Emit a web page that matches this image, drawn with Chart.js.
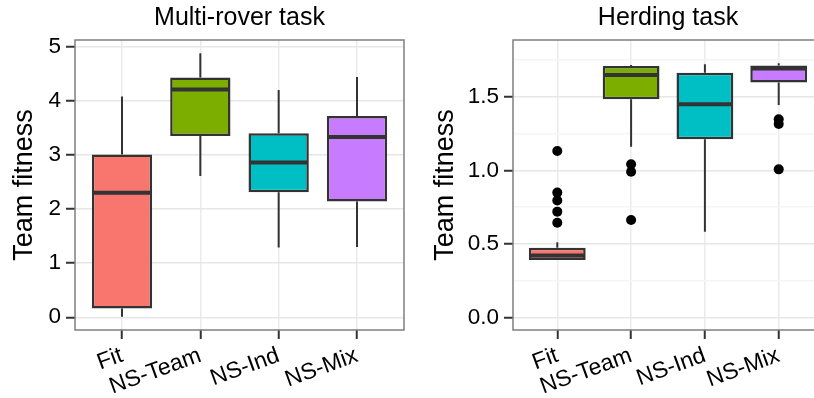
<!DOCTYPE html>
<html lang="en">
<head>
<meta charset="UTF-8">
<title>Team fitness</title>
<script src="https://cdn.jsdelivr.net/npm/chart.js@4.4.0/dist/chart.umd.min.js"></script>
<style>
  html, body { margin: 0; padding: 0; background: #fff; overflow: hidden; }
  #wrap { position: relative; width: 814px; height: 398px; overflow: hidden; }
  canvas { position: absolute; top: 0; }
  #rover { left: 0; }
  #herd { left: 410px; }
</style>
</head>
<body>
<div id="wrap">
  <canvas id="rover" width="410" height="398"></canvas>
  <canvas id="herd" width="420" height="398"></canvas>
</div>
<script>
const categories = ['Fit', 'NS-Team', 'NS-Ind', 'NS-Mix'];
const boxColors = ['#F8766D', '#7CAE00', '#00BFC4', '#C77CFF'];

// multi-rover task
const roverLow    = [0.01, 2.61, 1.29, 1.30];
const roverQ1     = [0.16, 3.35, 2.31, 2.14];
const roverMedian = [2.30, 4.21, 2.86, 3.33];
const roverQ3     = [3.01, 4.43, 3.40, 3.72];
const roverHigh   = [4.08, 4.88, 4.20, 4.44];
const roverOutliers = [[], [], [], []];
const roverMajor = [0, 1, 2, 3, 4, 5];
const roverMinor = [0.5, 1.5, 2.5, 3.5, 4.5];
const roverTickLabels = ['0', '1', '2', '3', '4', '5'];

// herding task
const herdLow    = [0.392, 1.161, 0.584, 1.444];
const herdQ1     = [0.392, 1.483, 1.211, 1.596];
const herdMedian = [0.422, 1.648, 1.449, 1.692];
const herdQ3     = [0.475, 1.709, 1.663, 1.712];
const herdHigh   = [0.512, 1.716, 1.720, 1.727];
const herdOutliers = [[1.132, 0.849, 0.796, 0.720, 0.645], [1.041, 0.991, 0.663], [], [1.347, 1.315, 1.007]];
const herdMajor = [0, 0.5, 1, 1.5];
const herdMinor = [0.25, 0.75, 1.25, 1.75];
const herdTickLabels = ['0.0', '0.5', '1.0', '1.5'];

const FONT = "'Liberation Sans', Arial, sans-serif";
const INK = '#333333';

// whiskers under the boxes, medians on top, panel frame last
function boxParts(p) {
  return {
    id: 'boxParts',
    beforeDatasetsDraw(chart) {
      const {ctx, scales: {x, y}} = chart;
      ctx.save();
      ctx.strokeStyle = INK;
      ctx.lineWidth = 2;
      p.low.forEach((lo, i) => {
        const px = x.getPixelForValue(i + 1);
        ctx.beginPath();
        ctx.moveTo(px, y.getPixelForValue(lo));
        ctx.lineTo(px, y.getPixelForValue(p.q1[i]));
        ctx.moveTo(px, y.getPixelForValue(p.q3[i]));
        ctx.lineTo(px, y.getPixelForValue(p.high[i]));
        ctx.stroke();
      });
      ctx.restore();
    },
    afterDatasetDraw(chart, args) {
      if (args.index !== 0) return;
      const {ctx, scales: {y}} = chart;
      ctx.save();
      ctx.strokeStyle = INK;
      ctx.lineWidth = 4;
      args.meta.data.forEach((bar, i) => {
        const py = y.getPixelForValue(p.median[i]);
        ctx.beginPath();
        ctx.moveTo(bar.x - bar.width / 2 + 1, py);
        ctx.lineTo(bar.x + bar.width / 2 - 1, py);
        ctx.stroke();
      });
      ctx.restore();
    },
    afterDraw(chart) {
      const {ctx, chartArea: a} = chart;
      ctx.save();
      ctx.strokeStyle = '#7f7f7f';
      ctx.lineWidth = 1.5;
      ctx.strokeRect(a.left, a.top, a.right - a.left, a.bottom - a.top);
      ctx.restore();
    }
  };
}

function panel(canvasId, p) {
  const yTicks = p.major.concat(p.minor).sort((a, b) => a - b);
  const isMajor = v => p.major.includes(v);
  const outlierPoints = [];
  p.outliers.forEach((list, i) => list.forEach(v => outlierPoints.push({x: i + 1, y: v})));

  return new Chart(document.getElementById(canvasId), {
    type: 'scatter',
    data: {
      datasets: [{
        type: 'bar',
        data: categories.map((c, i) => ({x: i + 1, y: [p.q1[i], p.q3[i]]})),
        backgroundColor: boxColors,
        borderColor: INK,
        borderWidth: 2.5,
        borderSkipped: false,
        categoryPercentage: 1,
        barPercentage: 0.77
      }, {
        type: 'scatter',
        data: outlierPoints,
        pointRadius: 5,
        backgroundColor: '#000',
        borderWidth: 0
      }]
    },
    options: {
      responsive: false,
      animation: false,
      layout: {padding: {left: 0, right: p.padRight, top: 0, bottom: 0}},
      plugins: {
        legend: {display: false},
        tooltip: {enabled: false},
        title: {
          display: true,
          text: p.title,
          fullSize: false,
          color: '#000',
          font: {family: FONT, size: 25, weight: 'normal', lineHeight: 1.2},
          padding: {top: 3, bottom: 7}
        }
      },
      scales: {
        x: {
          type: 'linear',
          min: 0.4,
          max: 4.6,
          offset: false,
          afterBuildTicks: s => { s.ticks = categories.map((c, i) => ({value: i + 1})); },
          afterFit: s => { s.height = 68; },
          ticks: {
            autoSkip: false,
            minRotation: 20,
            maxRotation: 20,
            padding: 3,
            color: '#000',
            font: {family: FONT, size: 23},
            callback: v => categories[v - 1]
          },
          grid: {color: '#ebebeb', lineWidth: 1.5, offset: false, tickLength: 9, tickWidth: 2, tickColor: INK},
          border: {display: false}
        },
        y: {
          type: 'linear',
          min: p.yMin,
          max: p.yMax,
          beginAtZero: false,
          afterBuildTicks: s => { s.ticks = yTicks.map(v => ({value: v})); },
          afterFit: s => { s.width = p.axisWidth; },
          ticks: {
            padding: 5,
            color: '#000',
            font: {family: FONT, size: 22.5},
            callback: v => isMajor(v) ? p.labels[p.major.indexOf(v)] : ''
          },
          title: {
            display: true,
            text: 'Team fitness',
            color: '#000',
            font: {family: FONT, size: 27},
            padding: {top: p.titlePad, bottom: 0}
          },
          grid: {
            color: c => isMajor(c.tick.value) ? '#e6e6e6' : '#f5f5f5',
            lineWidth: 1.5,
            tickLength: 9,
            tickWidth: 2,
            tickColor: c => isMajor(c.tick.value) ? INK : 'rgba(0,0,0,0)'
          },
          border: {display: false}
        }
      }
    },
    plugins: [boxParts(p)]
  });
}

panel('rover', {
  title: 'Multi-rover task',
  low: roverLow, q1: roverQ1, median: roverMedian, q3: roverQ3, high: roverHigh,
  outliers: roverOutliers,
  major: roverMajor, minor: roverMinor, labels: roverTickLabels,
  yMin: -0.235, yMax: 5.124,
  axisWidth: 75, padRight: 6, titlePad: 8
});

panel('herd', {
  title: 'Herding task',
  low: herdLow, q1: herdQ1, median: herdMedian, q3: herdQ3, high: herdHigh,
  outliers: herdOutliers,
  major: herdMajor, minor: herdMinor, labels: herdTickLabels,
  yMin: -0.0835, yMax: 1.885,
  axisWidth: 103, padRight: 7, titlePad: 19.5
});
</script>
</body>
</html>
